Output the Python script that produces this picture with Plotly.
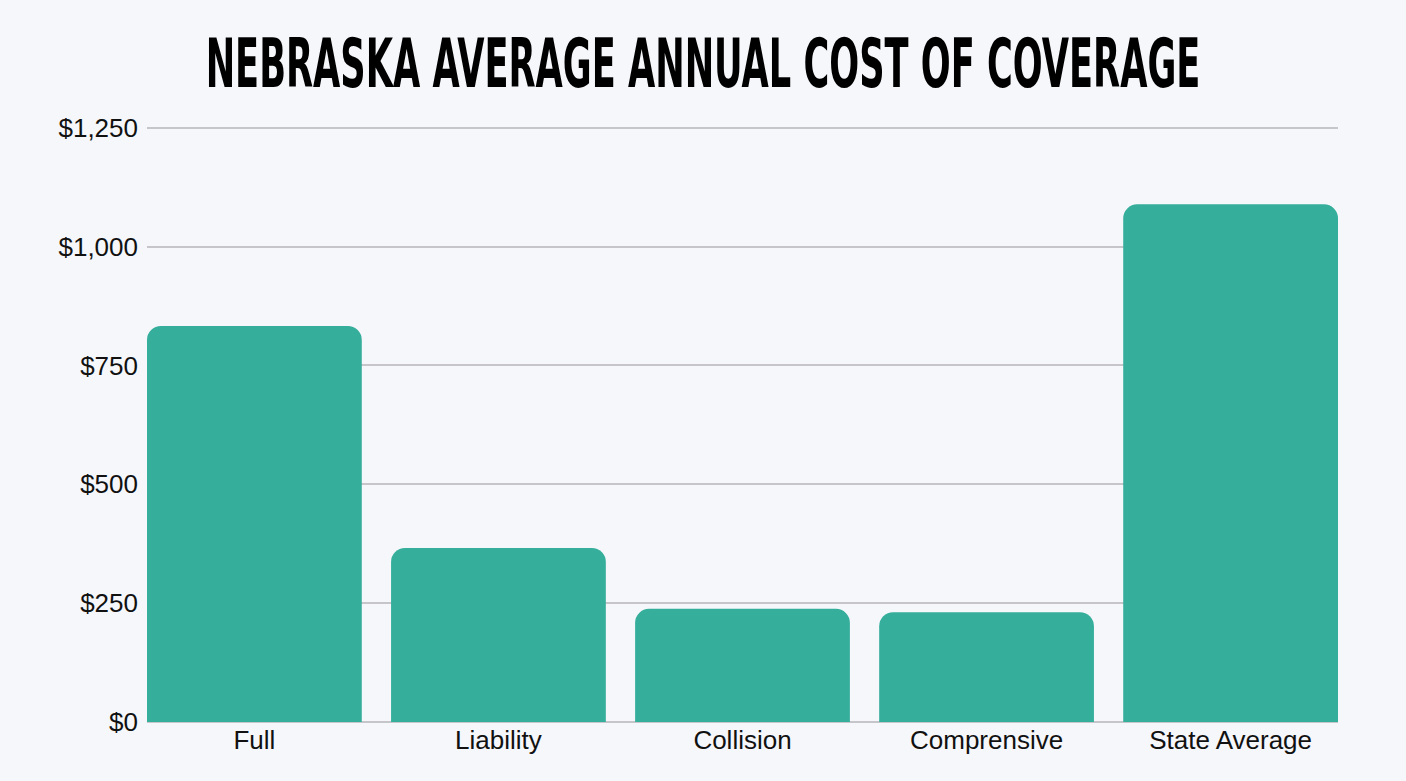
import plotly.graph_objects as go

categories = ["Full", "Liability", "Collision", "Comprensive", "State Average"]
costs = [833, 366, 238, 231, 1089]
tick_values = [0, 250, 500, 750, 1000, 1250]
tick_labels = ["$0", "$250", "$500", "$750", "$1,000", "$1,250"]
title_text = "NEBRASKA AVERAGE ANNUAL COST OF COVERAGE"

BG = "#f6f7fb"
BAR = "#35ae9c"

fig = go.Figure(
    go.Bar(x=categories, y=costs, marker=dict(color=BAR, line=dict(width=0)),
           hoverinfo="x+y")
)

fig.update_layout(
    width=1406, height=781,
    paper_bgcolor=BG, plot_bgcolor=BG,
    margin=dict(l=147, r=68, t=123, b=59),
    bargap=0.12,
    barcornerradius=14,
    showlegend=False,
    title=dict(
        text=title_text,
        x=0.5, xanchor="center", xref="container",
        y=0.919, yanchor="middle", yref="container",
        font=dict(family="DejaVu Sans, sans-serif",
                  size=68, color="#000000", weight="bold"),
    ),
    font=dict(family="Liberation Sans, Arial, sans-serif", color="#111111"),
)

fig.update_xaxes(
    range=[-0.44, 4.44],
    showgrid=False, showline=False, zeroline=False,
    ticks="", tickfont=dict(size=26, color="#111111"),
    fixedrange=True,
)
fig.update_yaxes(
    range=[0, 1260],
    tickvals=tick_values, ticktext=tick_labels,
    showgrid=True, gridcolor="#c6c6ca", gridwidth=1.5,
    zeroline=True, zerolinecolor="#c6c6ca", zerolinewidth=1.5,
    showline=False, ticks="", ticklabelstandoff=8,
    tickfont=dict(size=26, color="#111111"),
    fixedrange=True,
)

post = """
document.body.style.margin = '0';
document.body.style.overflow = 'hidden';
var gd = document.getElementById('{plot_id}');
function condenseTitle() {
  var t = gd.querySelector('.gtitle');
  if (!t) return;
  t.removeAttribute('transform');
  var bb = t.getBBox();
  var target = 995;
  if (bb.width > target) {
    var s = target / bb.width;
    var cx = bb.x + bb.width / 2;
    t.setAttribute('transform', 'translate(' + cx + ',0) scale(' + s + ',1) translate(' + (-cx) + ',0)');
  }
}
condenseTitle();
if (document.fonts && document.fonts.ready) { document.fonts.ready.then(condenseTitle); }
"""

fig.write_html("out.html", post_script=post, config={"displayModeBar": False})
